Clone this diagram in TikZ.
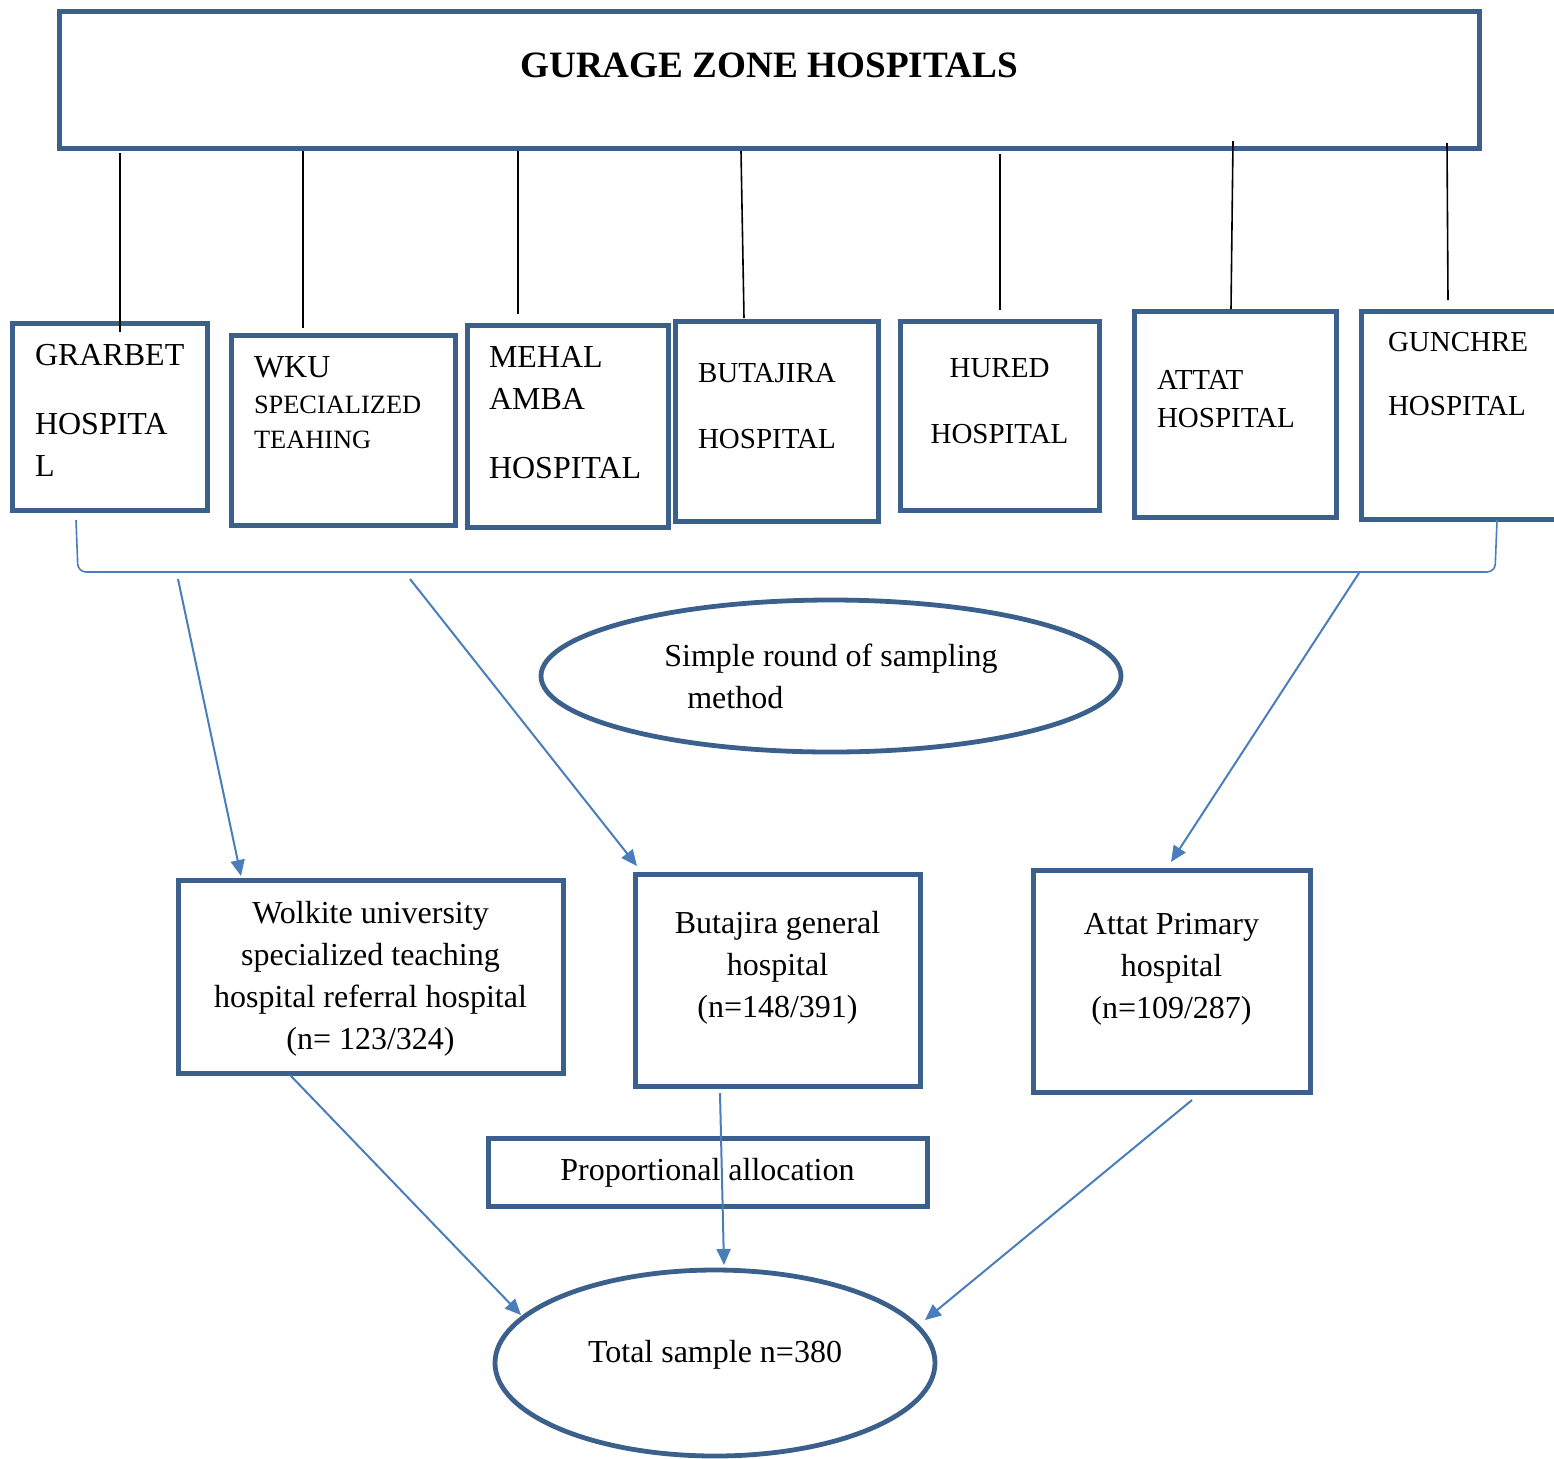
\documentclass[tikz,border=0pt]{standalone}
\usepackage{fontspec}
\setmainfont{Liberation Serif}
\usetikzlibrary{shapes.geometric,arrows.meta}
\definecolor{boxblue}{RGB}{60,96,140}
\definecolor{arrowblue}{RGB}{74,126,187}
\begin{document}
\begin{tikzpicture}[x=0.5pt,y=-0.5pt,
    every node/.style={inner sep=0pt,outer sep=0pt},
    bluebox/.style n args={2}{draw=boxblue,line width=2.5pt,
      minimum width=#1*0.5pt,minimum height=#2*0.5pt},
    blueoval/.style n args={2}{draw=boxblue,line width=2.4pt,ellipse,
      minimum width=#1*0.5pt,minimum height=#2*0.5pt},
    body/.style={font=\fontsize{16}{21}\selectfont,align=center},
    caps/.style={font=\fontsize{16}{21}\selectfont,align=left,anchor=north west},
    capsmall/.style={font=\fontsize{14.5}{19}\selectfont,align=left,anchor=north west},
    link/.style={line width=0.8pt},
    flow/.style={draw=arrowblue,line width=1pt,-{Triangle[length=8pt,width=7pt]}}]
    \useasboundingbox (0,0) rectangle (1554,1458);

    % Top box
    \node[bluebox={1420}{137}] (zone) at (769,79.5) {};
    \node[font=\fontsize{18.6}{22}\selectfont\bfseries] (title) at (769,65) {GURAGE ZONE HOSPITALS};

    % Hospitals
    \node[bluebox={195}{187}] (grarbet) at (109.5,416.5) {};
    \node[bluebox={224}{190}] (wku) at (343,430) {};
    \node[bluebox={201}{202}] (mehal) at (567.5,426) {};
    \node[bluebox={203}{200}] (butajira) at (776.5,421) {};
    \node[bluebox={199}{189}] (hured) at (999.5,415.5) {};
    \node[bluebox={202}{206}] (attat) at (1235,414) {};
    \node[bluebox={195}{208}] (gunchre) at (1458.5,415) {};

    \node[caps] (grarbettxt) at (35,344.5) {GRARBET\\[13.5pt]HOSPITA\\L};
    \node[caps] (wkutxt) at (254,356.5) {WKU};
    \node[caps,font=\fontsize{13.2}{17.5}\selectfont] (wkusub) at (254,396.3) {SPECIALIZED\\TEAHING};
    \node[caps] (mehaltxt) at (489,346.5) {MEHAL\\AMBA\\[13.5pt]HOSPITAL};
    \node[capsmall] (butajiratxt) at (698,363.5) {BUTAJIRA\\[14pt]HOSPITAL};
    \node[capsmall,align=center,anchor=north] (huredtxt) at (999.5,358.5) {HURED\\[14pt]HOSPITAL};
    \node[capsmall] (attattxt) at (1157,370.5) {ATTAT\\HOSPITAL};
    \node[capsmall] (gunchretxt) at (1388,332.5) {GUNCHRE\\[13pt]HOSPITAL};

    % Lines from the top box
    \foreach \xa/\ya/\xb/\yb in {120/153/120/332, 303/151/303/328, 518/151/518/314,
      741/151/744/318, 1000/154/1000/310, 1233/141/1231/309, 1447/143/1448/300}
    {
      \draw[link] (\xa,\ya) -- (\xb,\yb);
    }

    % Bracket
    \draw[arrowblue,line width=0.8pt,rounded corners=4pt] (76,520) -- (78,572) -- (1495,572) -- (1497,520);

    % Sampling method
    \node[blueoval={580}{152},body,align=left] (simple) at (831,676)
      {Simple round of sampling\\\hspace*{11.5pt}method};

    % Selected hospitals
    \node[bluebox={385}{193}] (wolkite) at (370.5,976.5) {};
    \node[body] (wolktxt) at (370.5,979)
      {Wolkite university\\specialized teaching\\hospital referral hospital\\(n= 123/324)};
    \node[bluebox={285}{212}] (butgen) at (777.5,980) {};
    \node[body] (butgentxt) at (777.5,968) {Butajira general\\hospital\\(n=148/391)};
    \node[bluebox={277}{222}] (attatp) at (1171.5,981) {};
    \node[body] (attatptxt) at (1171.5,969.5) {Attat Primary\\hospital\\(n=109/287)};

    \coordinate (a1s) at (178,579);
    \coordinate (a1e) at (241,876);
    \coordinate (a2s) at (410,579);
    \coordinate (a2e) at (637,866);
    \coordinate (a3s) at (1359,573);
    \coordinate (a3e) at (1171,862);
    \draw[flow] (a1s) -- (a1e);
    \draw[flow] (a2s) -- (a2e);
    \draw[flow] (a3s) -- (a3e);

    % Allocation and total
    \node[bluebox={439}{68},body] (propalloc) at (707.5,1172.5) {Proportional allocation};
    \node[blueoval={440}{186}] (total) at (715,1363) {};
    \node[body] (totaltxt) at (715,1355) {Total sample n=380};

    \coordinate (b1s) at (290,1075);
    \coordinate (b1e) at (521,1315);
    \coordinate (b2s) at (720,1093);
    \coordinate (b2e) at (724,1265);
    \coordinate (b3s) at (1192,1100);
    \coordinate (b3e) at (925,1320);
    \draw[flow] (b1s) -- (b1e);
    \draw[flow] (b2s) -- (b2e);
    \draw[flow] (b3s) -- (b3e);
\end{tikzpicture}
\end{document}
